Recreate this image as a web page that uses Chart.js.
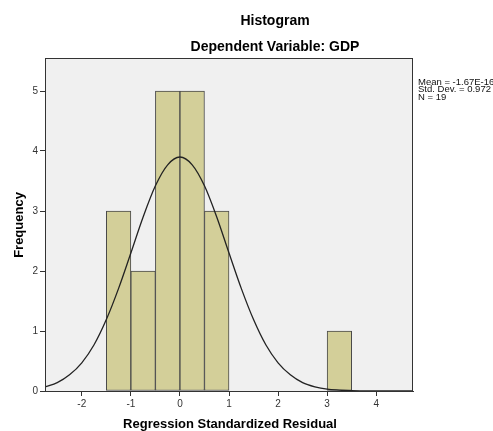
<!DOCTYPE html>
<html>
<head>
<meta charset="utf-8">
<script src="https://cdn.jsdelivr.net/npm/chart.js@4/dist/chart.umd.min.js"></script>
<style>
  html, body { margin: 0; padding: 0; background: #fff; }
  #wrap { width: 493px; height: 431px; }
</style>
</head>
<body>
<div id="wrap"><canvas id="chart" width="493" height="431"></canvas></div>
<script>
// histogram bins (centres, width 0.5) and their counts
const binCentres = [-1.25, -0.75, -0.25, 0.25, 0.75, 3.25]
const binCounts = [3, 2, 5, 5, 3, 1]

// normal curve
const curveX = [-2.75, -2.5, -2.25, -2, -1.75, -1.5, -1.25, -1, -0.75, -0.5, -0.25, 0,
  0.25, 0.5, 0.75, 1, 1.25, 1.5, 1.75, 2, 2.25, 2.5, 2.75, 3, 3.25, 3.5, 4, 4.5, 4.75]
const curveY = [0.07, 0.14, 0.27, 0.47, 0.77, 1.19, 1.71, 2.30, 2.90, 3.42, 3.77, 3.90,
  3.77, 3.42, 2.90, 2.30, 1.71, 1.19, 0.77, 0.47, 0.27, 0.14, 0.07, 0.03, 0.015, 0.006, 0.001, 0, 0]

const xTicks = [-2, -1, 0, 1, 2, 3, 4]
const yTicks = [0, 1, 2, 3, 4, 5]
const statLines = ['Mean = -1.67E-16', 'Std. Dev. = 0.972', 'N = 19']

const FONT = '"Liberation Sans", Arial, sans-serif'

const frame = {
  id: 'frame',
  beforeDatasetsDraw(chart) {
    const { ctx, chartArea: a } = chart
    ctx.save()
    ctx.fillStyle = '#f0f0f0'
    ctx.fillRect(a.left, a.top, a.right - a.left, a.bottom - a.top)
    ctx.restore()
  },
  afterDraw(chart) {
    const { ctx, chartArea: a } = chart
    ctx.save()
    ctx.strokeStyle = '#333'
    ctx.lineWidth = 1
    ctx.strokeRect(Math.round(a.left) + 0.5, Math.round(a.top) + 0.5,
      Math.round(a.right - a.left) - 1, Math.round(a.bottom - a.top))

    ctx.fillStyle = '#000'
    ctx.textAlign = 'center'
    ctx.textBaseline = 'middle'
    ctx.font = 'bold 14px ' + FONT
    ctx.fillText('Histogram', 275, 21)
    ctx.fillText('Dependent Variable: GDP', 275, 47)

    ctx.font = 'bold 13px ' + FONT
    ctx.fillText('Regression Standardized Residual', 230, 424)
    ctx.save()
    ctx.translate(19, 225)
    ctx.rotate(-Math.PI / 2)
    ctx.fillText('Frequency', 0, 0)
    ctx.restore()

    ctx.font = '9.5px ' + FONT
    ctx.textAlign = 'left'
    ctx.fillStyle = '#111'
    statLines.forEach((t, i) => ctx.fillText(t, 418, 82 + i * 7.5))
    ctx.restore()
  }
}

new Chart(document.getElementById('chart'), {
  type: 'bar',
  data: {
    datasets: [
      {
        type: 'line',
        data: curveX.map((x, i) => ({ x: x, y: curveY[i] })),
        borderColor: '#222',
        borderWidth: 1.3,
        pointRadius: 0,
        cubicInterpolationMode: 'monotone',
        fill: false,
        order: 0
      },
      {
        type: 'bar',
        data: binCentres.map((x, i) => ({ x: x, y: binCounts[i] })),
        backgroundColor: '#d3cf99',
        borderColor: '#4a4a4a',
        borderWidth: 1,
        borderSkipped: false,
        categoryPercentage: 1,
        barPercentage: 1,
        order: 1
      }
    ]
  },
  options: {
    responsive: false,
    animation: false,
    events: [],
    layout: { padding: { top: 58, right: 80, bottom: 0, left: 0 } },
    plugins: { legend: { display: false }, tooltip: { enabled: false } },
    scales: {
      x: {
        type: 'linear',
        min: -2.75,
        max: 4.75,
        offset: false,
        afterBuildTicks: s => { s.ticks = xTicks.map(v => ({ value: v })) },
        afterFit: s => { s.height = 40 },
        grid: { drawOnChartArea: false, offset: false, tickLength: 5, color: '#333' },
        border: { color: '#333' },
        ticks: { font: { family: FONT, size: 10 }, color: '#333', padding: 2, maxRotation: 0 }
      },
      y: {
        min: 0,
        max: 5.55,
        afterBuildTicks: s => { s.ticks = yTicks.map(v => ({ value: v })) },
        afterFit: s => { s.width = 45 },
        grid: { drawOnChartArea: false, tickLength: 5, color: '#333' },
        border: { color: '#333' },
        ticks: { font: { family: FONT, size: 10 }, color: '#333', padding: 2 }
      }
    }
  },
  plugins: [frame]
})
</script>
</body>
</html>
